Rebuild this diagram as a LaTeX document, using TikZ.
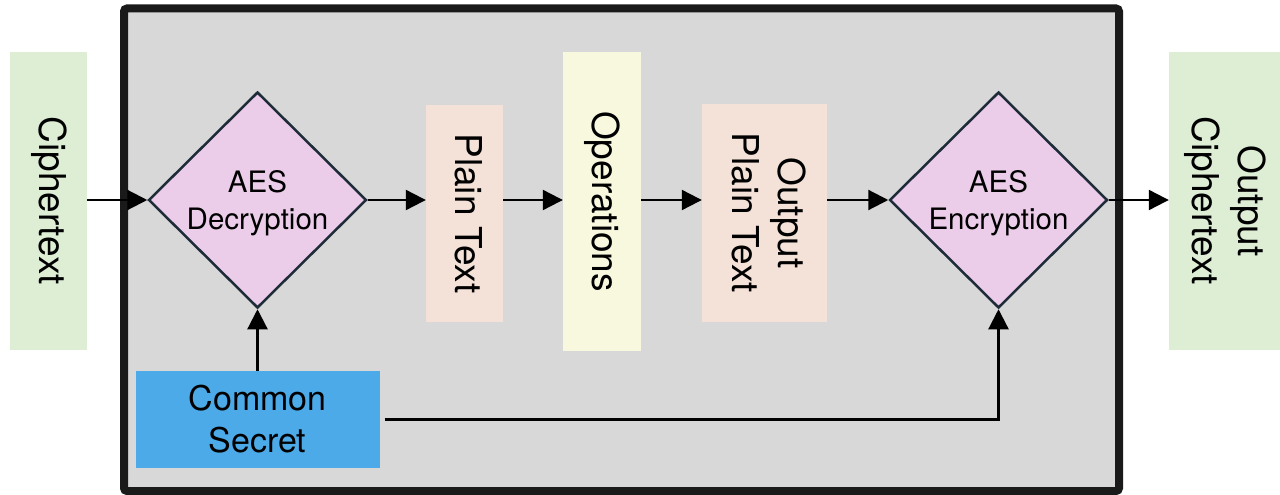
\documentclass[tikz,border=0pt]{standalone}
\usepackage{fontspec}
\setmainfont{TeX Gyre Heros}
\usepackage{graphicx}
\usetikzlibrary{arrows.meta,shapes.geometric}

% vertical label: text turned to read top to bottom
\newcommand{\vlabel}[1]{\rotatebox{-90}{\begin{tabular}{@{}c@{}}#1\end{tabular}}}

\definecolor{framegray}{HTML}{D8D8D8}
\definecolor{framedark}{HTML}{1A1A1A}
\definecolor{cipherfill}{HTML}{DDEED5}
\definecolor{plainfill}{HTML}{F4E2D8}
\definecolor{opsfill}{HTML}{F7F8DD}
\definecolor{aesfill}{HTML}{EBCDE9}
\definecolor{aesline}{HTML}{1E2B38}
\definecolor{secretfill}{HTML}{4DAAE8}

\tikzset{
  databox/.style={rectangle, draw=none, inner sep=0pt, text=black,
    font=\fontsize{37}{46}\selectfont},
  aes/.style={diamond, draw=aesline, line width=2.5pt, fill=aesfill,
    inner sep=0pt, minimum width=218pt, minimum height=216pt},
  aestext/.style={align=center, inner sep=0pt,
    font=\fontsize{29.5}{37}\selectfont},
  secret/.style={rectangle, fill=secretfill, inner sep=0pt, align=center,
    minimum width=244pt, minimum height=97pt,
    font=\fontsize{34}{42}\selectfont},
  flow/.style={line width=2.2pt, -{Triangle[length=20pt,width=20pt]}},
}

\begin{document}
\begin{tikzpicture}[x=1pt,y=-1pt]
  \useasboundingbox (0,0) rectangle (1280,495);

  % processing enclosure
  \node[draw=framedark, fill=framegray, line width=8pt, rounded corners=3pt,
        minimum width=995pt, minimum height=482.5pt, inner sep=0pt]
        (frame) at (621.5,249.75) {};

  % data blocks
  \node[databox, fill=cipherfill, minimum width=77pt, minimum height=298pt]
        (ct) at (48.5,201) {\vlabel{Ciphertext}};
  \node[databox, fill=plainfill, minimum width=77pt, minimum height=217pt]
        (pt) at (464.5,213.5) {\vlabel{Plain Text}};
  \node[databox, fill=opsfill, minimum width=78pt, minimum height=299pt]
        (ops) at (602,201.5) {\vlabel{Operations}};
  \node[databox, fill=plainfill, minimum width=125pt, minimum height=218pt]
        (opt) at (764.5,213) {\vlabel{Output\\Plain Text}};
  \node[databox, fill=cipherfill, minimum width=111pt, minimum height=298pt]
        (oct) at (1224.5,201) {\vlabel{Output\\Ciphertext}};

  % AES stages
  \node[aes] (dec) at (257.5,200) {};
  \node[aestext] (dectext) at (257.5,203) {AES\\Decryption};
  \node[aes] (enc) at (998.5,200) {};
  \node[aestext] (enctext) at (998.5,203) {AES\\Encryption};

  % shared key
  \node[secret] (cs) at (257.5,419.5) {Common\\Secret};

  % data flow
  \draw[flow] (ct.east |- dec.west) -- (dec.west);
  \draw[flow] (dec.east) -- (pt.west |- dec.east);
  \draw[flow] (pt.east |- dec.east) -- (ops.west |- dec.east);
  \draw[flow] (ops.east |- dec.east) -- (opt.west |- dec.east);
  \draw[flow] (opt.east |- enc.west) -- (enc.west);
  \draw[flow] (enc.east) -- (oct.west |- enc.east);

  % key distribution
  \draw[flow] (cs.north) -- (dec.south);
  \draw[flow] ([xshift=5pt]cs.east) -| (enc.south);
\end{tikzpicture}
\end{document}
